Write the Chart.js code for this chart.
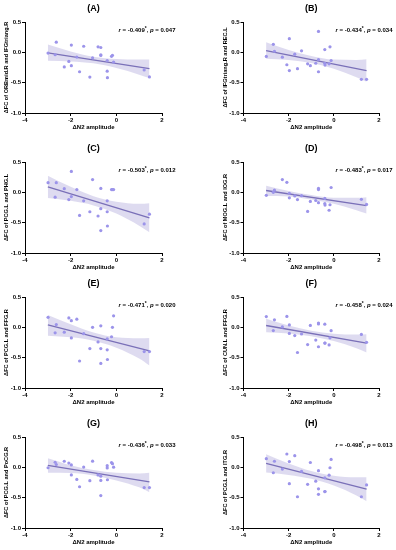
<!DOCTYPE html>
<html><head><meta charset="utf-8">
<script src="https://cdn.jsdelivr.net/npm/chart.js@4"></script>
<style>
html,body{margin:0;padding:0;background:#fff;}
#fig{position:relative;width:396px;height:550px;overflow:hidden;background:#fff;}
#fig canvas{position:absolute;}
</style></head><body><div id="fig"></div>
<script>
// ---- data ----
const n2Amplitude = [-2.99,-2.68,-2.63,-2.28,-2.08,-1.97,-1.97,-1.73,-1.61,-1.43,-1.16,-1.04,-0.80,-0.68,-0.68,-0.68,-0.40,-0.40,-0.39,-0.21,-0.17,-0.12,1.22,1.45];

const fcA = [-0.012,-0.04,0.168,-0.24,-0.15,0.12,-0.22,-0.078,-0.32,0.10,-0.408,-0.09,0.09,0.08,-0.04,-0.052,-0.135,-0.31,-0.418,-0.065,-0.048,-0.16,-0.29,-0.405];
const fcB = [-0.068,0.132,0.018,-0.08,-0.205,0.225,-0.30,-0.03,-0.27,0.025,-0.19,-0.22,-0.18,0.345,-0.32,-0.12,-0.18,0.045,-0.21,-0.19,0.09,-0.135,-0.445,-0.445];
const fcC = [0.16,-0.08,0.16,0.06,-0.12,0.345,-0.07,0.045,-0.38,-0.14,-0.32,0.21,-0.39,0.065,-0.27,-0.63,-0.14,-0.32,-0.555,0.045,0.045,0.045,-0.52,-0.36];
const fcD = [-0.05,0.0,0.035,0.21,0.165,-0.015,-0.09,-0.06,-0.12,-0.055,-0.315,-0.15,-0.135,0.065,0.045,-0.17,-0.10,-0.185,-0.21,-0.295,-0.205,0.08,-0.115,-0.20];
const fcE = [0.165,-0.09,0.045,-0.08,0.155,0.11,-0.175,0.135,-0.555,-0.105,-0.35,0.0,-0.24,0.025,-0.35,-0.595,-0.19,-0.37,-0.53,-0.155,0.0,0.19,-0.40,-0.40];
const fcF = [0.178,-0.053,0.123,0.007,0.18,0.039,-0.10,-0.136,-0.415,-0.11,-0.285,0.031,-0.21,0.055,0.07,-0.32,0.052,-0.26,-0.26,-0.29,-0.173,-0.055,-0.117,-0.247];
const fcG = [-0.007,0.084,0.047,0.10,0.07,0.04,-0.125,-0.20,-0.32,0.005,-0.22,0.102,-0.125,-0.145,-0.215,-0.465,0.027,-0.01,-0.205,0.078,0.06,0.003,-0.333,-0.333];
const fcH = [0.142,-0.089,0.10,-0.028,0.22,0.095,-0.27,0.192,-0.485,-0.068,-0.28,0.08,-0.228,-0.055,-0.355,-0.445,-0.173,-0.40,-0.40,-0.13,-0.007,0.13,-0.485,-0.29];

// regression line end points
const fitX = [-3, 1.45];
const fitA = [-0.01, -0.27];
const fitB = [0.03, -0.30];
const fitC = [0.09, -0.42];
const fitD = [0.03, -0.22];
const fitE = [0.04, -0.39];
const fitF = [0.03, -0.26];
const fitG = [0.033, -0.24];
const fitH = [0.065, -0.36];

// confidence band read at these x positions
const bandX = [-3, -2, -1, 0, 1, 1.45];
const upperA = [0.13, 0.015, -0.072, -0.11, -0.12, -0.12];
const lowerA = [-0.14, -0.15, -0.182, -0.26, -0.368, -0.425];
const upperB = [0.165, 0.04, -0.06, -0.12, -0.125, -0.115];
const lowerB = [-0.105, -0.125, -0.175, -0.27, -0.41, -0.485];
const upperC = [0.275, 0.09, -0.065, -0.155, -0.19, -0.18];
const lowerC = [-0.095, -0.14, -0.215, -0.35, -0.55, -0.66];
const upperD = [0.11, 0.02, -0.045, -0.09, -0.09, -0.08];
const lowerD = [-0.06, -0.07, -0.12, -0.19, -0.295, -0.35];
const upperE = [0.205, 0.05, -0.085, -0.165, -0.18, -0.175];
const lowerE = [-0.14, -0.165, -0.22, -0.335, -0.515, -0.63];
const upperF = [0.14, 0.03, -0.055, -0.105, -0.12, -0.115];
const lowerF = [-0.08, -0.10, -0.145, -0.225, -0.345, -0.415];
const upperG = [0.15, 0.035, -0.045, -0.09, -0.10, -0.09];
const lowerG = [-0.09, -0.095, -0.135, -0.215, -0.33, -0.41];
const upperH = [0.215, 0.065, -0.06, -0.14, -0.165, -0.165];
const lowerH = [-0.085, -0.125, -0.19, -0.30, -0.465, -0.56];

const panelLetters = ['(A)','(B)','(C)','(D)','(E)','(F)','(G)','(H)'];
const yTitles = [
  '\u0394FC of ORBmid.R and IFGtriang.R',
  '\u0394FC of IFGtriang.R and REC.L',
  '\u0394FC of PCG.L and PHG.L',
  '\u0394FC of MOG.L and IOG.R',
  '\u0394FC of PCG.L and FFG.R',
  '\u0394FC of CUN.L and FFG.R',
  '\u0394FC of PCG.L and PoCG.R',
  '\u0394FC of PCG.L and ITG.R'
];
const xTitle = '\u0394N2 amplitude';
const rValues = ['-0.409','-0.434','-0.503','-0.483','-0.471','-0.458','-0.436','-0.498'];
const pValues = ['0.047','0.034','0.012','0.017','0.020','0.024','0.033','0.013'];
const xTicks = [-4, -2, 0, 2];
const yTicks = [-1.0, -0.5, 0.0, 0.5];

// ---- drawing ----
const FAM = "'Liberation Sans', Arial, sans-serif";
const POINT_COLOR = '#9c94ea';
const LINE_COLOR = '#7a70b8';
const BAND_COLOR = 'rgba(155,145,210,0.33)';

const fcSets = [fcA,fcB,fcC,fcD,fcE,fcF,fcG,fcH];
const fitSets = [fitA,fitB,fitC,fitD,fitE,fitF,fitG,fitH];
const upperSets = [upperA,upperB,upperC,upperD,upperE,upperF,upperG,upperH];
const lowerSets = [lowerA,lowerB,lowerC,lowerD,lowerE,lowerF,lowerG,lowerH];

const rowTops = [0, 140, 275, 415];

const statsPlugin = {
  id: 'stats',
  afterDraw(chart, args, opts) {
    const ctx = chart.ctx, ca = chart.chartArea;
    const size = 6;
    const bold = `bold ${size}px ${FAM}`;
    const ital = `italic bold ${size}px ${FAM}`;
    const sup = `bold ${size*0.8}px ${FAM}`;
    const parts = [
      {t:'r', f:ital, dy:0},
      {t:' = ' + opts.r, f:bold, dy:0},
      {t:'*', f:sup, dy:-1.5},
      {t:', ', f:bold, dy:0},
      {t:'p', f:ital, dy:0},
      {t:' = ' + opts.p, f:bold, dy:0}
    ];
    ctx.save();
    let total = 0;
    parts.forEach(p => { ctx.font = p.f; p.w = ctx.measureText(p.t).width; total += p.w; });
    let x = ca.right + 13.5 - total;
    const y = ca.top + 8.5;
    ctx.fillStyle = '#000';
    ctx.textBaseline = 'middle';
    ctx.textAlign = 'left';
    parts.forEach(p => { ctx.font = p.f; ctx.fillText(p.t, x, y + p.dy); x += p.w; });
    ctx.restore();
  }
};

const fig = document.getElementById('fig');
for (let i = 0; i < 8; i++) {
  const col = i % 2, row = Math.floor(i / 2);
  const cv = document.createElement('canvas');
  cv.width = 198; cv.height = 137;
  cv.style.left = (col * 198) + 'px';
  cv.style.top = rowTops[row] + 'px';
  cv.style.width = '198px'; cv.style.height = '137px';
  fig.appendChild(cv);

  const pts = n2Amplitude.map((x, k) => ({x, y: fcSets[i][k]}));
  const fit = fitX.map((x, k) => ({x, y: fitSets[i][k]}));
  const up = bandX.map((x, k) => ({x, y: upperSets[i][k]}));
  const lo = bandX.map((x, k) => ({x, y: lowerSets[i][k]}));

  new Chart(cv, {
    type: 'scatter',
    data: {
      datasets: [
        {data: pts, order: 0, pointRadius: 1.6, pointBackgroundColor: POINT_COLOR, pointBorderWidth: 0, pointBorderColor: POINT_COLOR, showLine: false},
        {type: 'line', data: fit, order: 1, borderColor: LINE_COLOR, borderWidth: 1.3, pointRadius: 0, fill: false, tension: 0},
        {type: 'line', data: up, order: 2, borderWidth: 0, borderColor: 'rgba(0,0,0,0)', pointRadius: 0, fill: '+1', backgroundColor: BAND_COLOR, cubicInterpolationMode: 'monotone'},
        {type: 'line', data: lo, order: 3, borderWidth: 0, borderColor: 'rgba(0,0,0,0)', pointRadius: 0, fill: false, cubicInterpolationMode: 'monotone'}
      ]
    },
    options: {
      responsive: false, animation: false, devicePixelRatio: 1,
      events: [],
      layout: {padding: {left: col ? 20.5 : 0, right: col ? 17 : 36, top: 0, bottom: 2}},
      plugins: {
        legend: {display: false},
        tooltip: {enabled: false},
        title: {display: true, text: panelLetters[i], fullSize: false, color: '#000',
                font: {family: FAM, size: 9, weight: 'bold'}, padding: {top: 3, bottom: 8.2}},
        stats: {r: rValues[i], p: pValues[i]}
      },
      scales: {
        x: {
          type: 'linear', position: 'bottom', min: xTicks[0], max: xTicks[xTicks.length-1],
          afterBuildTicks: s => { s.ticks = xTicks.map(v => ({value: v})); },
          ticks: {color: '#000', font: {family: FAM, size: 6, weight: 'bold'}, padding: 1, maxRotation: 0,
                  callback: v => String(v)},
          grid: {display: true, drawOnChartArea: false, drawTicks: true, tickLength: 3, color: '#000', lineWidth: 1},
          border: {display: true, color: '#000', width: 1},
          title: {display: true, text: xTitle, color: '#000', font: {family: FAM, size: 6, weight: 'bold'}, padding: {top: 0, bottom: 4.4}},
          afterFit: s => { s.height = 22; }
        },
        y: {
          type: 'linear', position: 'left', min: yTicks[0], max: yTicks[yTicks.length-1],
          afterBuildTicks: s => { s.ticks = yTicks.map(v => ({value: v})); },
          ticks: {color: '#000', font: {family: FAM, size: 6, weight: 'bold'}, padding: 1,
                  callback: v => Number(v).toFixed(1)},
          grid: {display: true, drawOnChartArea: false, drawTicks: true, tickLength: 3, color: '#000', lineWidth: 1},
          border: {display: true, color: '#000', width: 1},
          title: {display: true, text: yTitles[i], color: '#000', font: {family: FAM, size: 5.6, weight: 'bold'}, padding: {top: 3.4, bottom: 0}},
          afterFit: s => { s.width = 25; }
        }
      }
    },
    plugins: [statsPlugin]
  });
}
</script></body></html>
